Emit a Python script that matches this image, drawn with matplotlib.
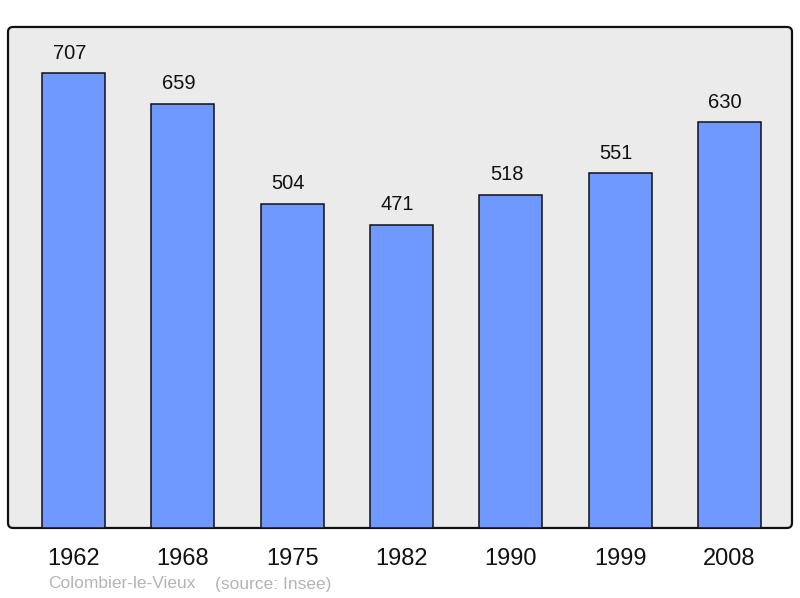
"""Population chart - Colombier-le-Vieux, bars with value labels."""
import matplotlib
matplotlib.use('Agg')
import matplotlib.pyplot as plt
from matplotlib.patches import FancyBboxPatch

plt.rcParams['font.family'] = ['Liberation Sans', 'DejaVu Sans']

years = ['1962', '1968', '1975', '1982', '1990', '1999', '2008']
population = [707, 659, 504, 471, 518, 551, 630]

BAR_COLOR = '#7099ff'
BG_COLOR = '#ebebeb'

fig = plt.figure(figsize=(8, 5.98), dpi=100)
ax = fig.add_axes([0.01, 0.1171, 0.98, 0.8378])
ax.set_xlim(-0.599, 6.572)
ax.set_ylim(0, 778.4)
ax.axis('off')

# rounded grey panel
panel = FancyBboxPatch((0, 0), 1, 1, boxstyle='round,pad=0,rounding_size=0.0064',
                       mutation_aspect=1.565, transform=ax.transAxes,
                       facecolor=BG_COLOR, edgecolor='#111111', linewidth=1.6,
                       zorder=0, clip_on=False)
ax.add_patch(panel)

x = range(len(years))
bars = ax.bar(x, population, width=0.576, color=BAR_COLOR, edgecolor='#111111',
              linewidth=1.1, zorder=2)

for xi, v in zip(x, population):
    ax.annotate(str(v), (xi, v), xytext=(-3, 7.5), textcoords='offset points',
                ha='center', va='bottom', fontsize=14.5, color='#111111')

for xi, yr in zip(x, years):
    ax.annotate(yr, (xi, 0), xytext=(0, -22), textcoords='offset points',
                ha='center', va='center', fontsize=17, color='#111111',
                annotation_clip=False)

fig.text(48 / 800, 1 - 584 / 598, 'Colombier-le-Vieux', fontsize=12.5, color='#b4b4b4',
         ha='left', va='center')
fig.text(215 / 800, 1 - 584 / 598, '(source: Insee)', fontsize=12.5, color='#b4b4b4',
         ha='left', va='center')

fig.savefig('out.png', dpi=100, facecolor='white')
plt.close(fig)
